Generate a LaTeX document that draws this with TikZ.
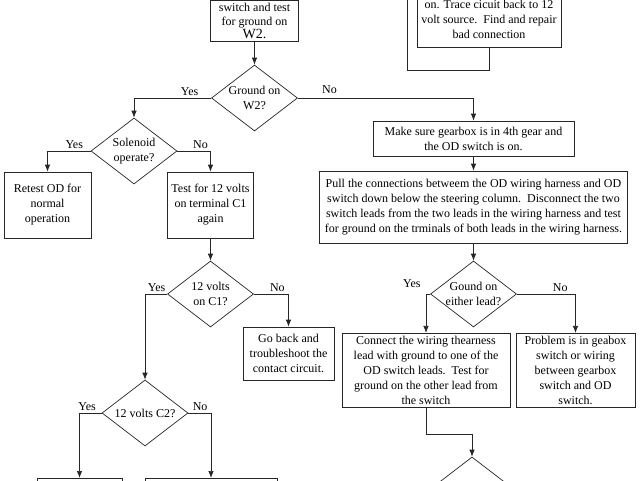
\documentclass[tikz,border=0pt]{standalone}
\usepackage{fontspec}
\setmainfont{Liberation Serif}
\usetikzlibrary{arrows.meta,positioning,shapes.geometric}
\tikzset{%
	block/.style    = {draw, rectangle, inner sep=3pt, align=center}, % Process box
	decision/.style = {draw, diamond, aspect=1.3, inner sep=-4pt, minimum width=86pt, minimum height=66pt, align=center},
	answer/.style   = {inner sep=2pt}, % Yes / No
	arrow/.style    = {-{Latex[length=7pt,width=5.5pt]}},
	waypoint/.style = {coordinate},
}

\begin{document}
\begin{tikzpicture}[x=1pt, y=-1pt, line width=0.7pt, draw=black!85, font=\fontsize{12}{15}\selectfont]
	\useasboundingbox (0,0) rectangle (640,480);
	\clip (0,0) rectangle (640,480);

	% left branch
	\node[block, minimum width=88pt, anchor=south, text depth=0pt, font=\fontsize{12}{13.5}\selectfont] (gndtest) at (254.5,42) {switch and test\\for ground on\\{\fontsize{14}{16}\selectfont W2.}};
	\node[decision] (gndW2) at (254.5,98) {Ground on\\W2?};
	\node[decision] (solenoid) at (134,151) {Solenoid\\operate?};
	\node[block, minimum width=87pt, minimum height=66pt] (retest) at (47.5,205) {Retest OD for\\normal\\operation};
	\node[block, minimum width=86pt, minimum height=66pt] (testC1) at (210.5,205) {Test for 12 volts\\on terminal C1\\again};
	\node[decision] (voltsC1) at (210.5,294) {12 volts\\on C1?};
	\node[block, minimum width=91pt, minimum height=53pt] (goback) at (288.5,353.5) {Go back and\\troubleshoot the\\contact circuit.};
	\node[decision] (voltsC2) at (145,413) {12 volts C2?};
	\node[block, minimum width=85pt, minimum height=40pt, anchor=north] (c2yes) at (79.5,478) {};
	\node[block, minimum width=132pt, minimum height=40pt, anchor=north] (c2no) at (211,478) {};

	% right branch
	\node[block, minimum width=144pt, anchor=south, text depth=6pt] (trace) at (489,48) {on. Trace cicuit back to 12\\volt source.\ \ Find and repair\\bad connection};
	\node[block, minimum width=201pt, minimum height=35pt] (gear) at (473.5,138.5) {Make sure gearbox is in 4th gear and\\the OD switch is on.};
	\node[block, minimum width=308pt, minimum height=72pt] (pull) at (473.5,207) {Pull the connections betweem the OD wiring harness and OD\\switch down below the steering column.\ \ Disconnect the two\\switch leads from the two leads in the wiring harness and test\\for ground on the trminals of both leads in the wiring harness.};
	\node[decision] (eitherlead) at (473.5,294) {Gound on\\either lead?};
	\node[block, minimum width=168pt, minimum height=67pt] (connect) at (426,370.5) {Connect the wiring thearness\\lead with ground to one of the\\OD switch leads.\ \ Test for\\ground on the other lead from\\the switch};
	\node[block, minimum width=119pt, minimum height=67pt] (problem) at (575.5,370.5) {Problem is in geabox\\switch or wiring\\between gearbox\\switch and OD\\switch.};
	\node[decision] (next) at (472,490) {};

	\node[waypoint] (wpjoin) at (472,434) {};
	\node[waypoint] (wploop) at (407,70) {};
	\node[waypoint] (wpup) at (407,-10) {};

	\draw[arrow] (gndtest.south) -- (gndW2.north);
	\draw[arrow] (gndW2.west) -| node[answer, above, pos=0.14] {Yes} (solenoid.north);
	\draw[arrow] (gndW2.east) -| node[answer, above, pos=0.09, yshift=2pt] {No} (gear.north);
	\draw[arrow] (solenoid.west) -| node[answer, above, pos=0.19] {Yes} (retest.north);
	\draw[arrow] (solenoid.east) -| node[answer, above, pos=0.35] {No} (testC1.north);
	\draw[arrow] (testC1.south) -- (voltsC1.north);
	\draw[arrow] (voltsC1.west) -| node[answer, above, pos=0.24] {Yes} (voltsC2.north);
	\draw[arrow] (voltsC1.east) -| node[answer, above, pos=0.34] {No} (goback.north);
	\draw[arrow] (voltsC2.west) -| node[answer, above, pos=0.33] {Yes} (c2yes.north);
	\draw[arrow] (voltsC2.east) -| node[answer, above, pos=0.26] {No} (c2no.north);

	\draw (trace.south) |- (wploop) -- (wpup);
	\draw[arrow] (gear.south) -- (pull.north);
	\draw[arrow] (pull.south) -- (eitherlead.north);
	\draw[arrow] (eitherlead.west) -| node[answer, above left, pos=0.5, xshift=-3pt, yshift=4pt] {Yes} (connect.north);
	\draw[arrow] (eitherlead.east) -| node[answer, above, pos=0.37] {No} (problem.north);
	\draw[arrow] (connect.south) |- (wpjoin) -- (next.north);
\end{tikzpicture}
\end{document}
